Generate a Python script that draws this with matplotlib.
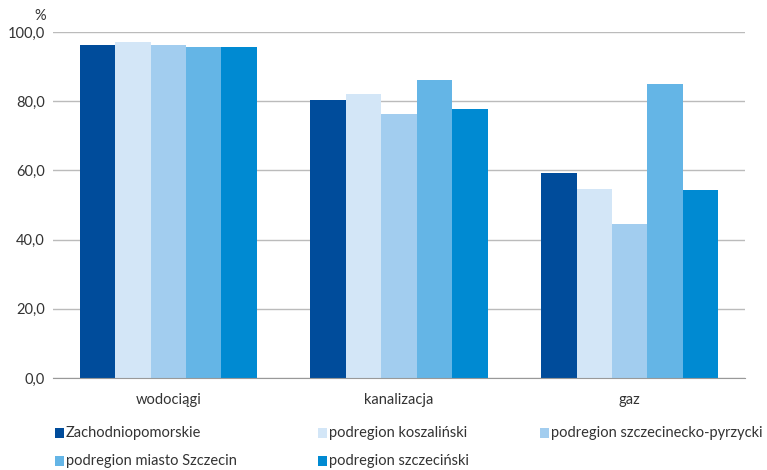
import matplotlib
matplotlib.use("Agg")
import matplotlib.pyplot as plt
import numpy as np

categories = ["wodociągi", "kanalizacja", "gaz"]
series_names = ["Zachodniopomorskie", "podregion koszaliński", "podregion szczecinecko-pyrzycki",
                "podregion miasto Szczecin", "podregion szczeciński"]
values = [
    [96.2, 80.3, 59.2],
    [97.1, 82.2, 54.6],
    [96.1, 76.4, 44.6],
    [95.8, 86.2, 85.0],
    [95.8, 77.8, 54.3],
]
colors = ["#004C9B", "#D3E6F7", "#A2CDEF", "#64B5E6", "#008AD2"]
yticks = [0, 20, 40, 60, 80, 100]

fam = ["Lato", "DejaVu Sans"]
plt.rcParams['font.family'] = fam
tc = "#333333"
fs = 10.5

fig = plt.figure(figsize=(7.67, 4.70), dpi=100)
ax = fig.add_axes([53/767, 1-378/470, 692/767, 346/470])

x = np.arange(len(categories))
w = 0.1536
for i, (vals, c) in enumerate(zip(values, colors)):
    ax.bar(x + (i - 2) * w, vals, width=w, color=c, zorder=2)

ax.set_xlim(-0.5, 2.5)
ax.set_ylim(0, 100)
ax.set_yticks(yticks)
ax.set_yticklabels([f"{v:.1f}".replace(".", ",") for v in yticks], color=tc, fontsize=fs)
ax.set_xticks(x)
ax.set_xticklabels(categories, color=tc, fontsize=fs)
ax.tick_params(axis='both', length=0)
ax.tick_params(axis='x', pad=11)
ax.tick_params(axis='y', pad=6)
ax.grid(axis='y', color="#BBBBBB", linewidth=1, zorder=1)
for s in ["top", "right", "left"]:
    ax.spines[s].set_visible(False)
ax.spines["bottom"].set_color("#999999")
ax.spines["bottom"].set_zorder(3)

fig.text(40/767, 1-16/470, "%", ha="center", va="center", color=tc, fontsize=fs)

pos = [(55, 433), (318, 433), (540, 433), (55, 461), (318, 461)]
for (px, py), name, c in zip(pos, series_names, colors):
    fig.patches.append(plt.Rectangle((px/767, 1-(py+5)/470), 9/767, 10/470,
                                     transform=fig.transFigure, facecolor=c, edgecolor='none'))
    fig.text((px+11)/767, 1-py/470, name, ha="left", va="center", color=tc, fontsize=fs)

fig.savefig("out.png", dpi=100)
